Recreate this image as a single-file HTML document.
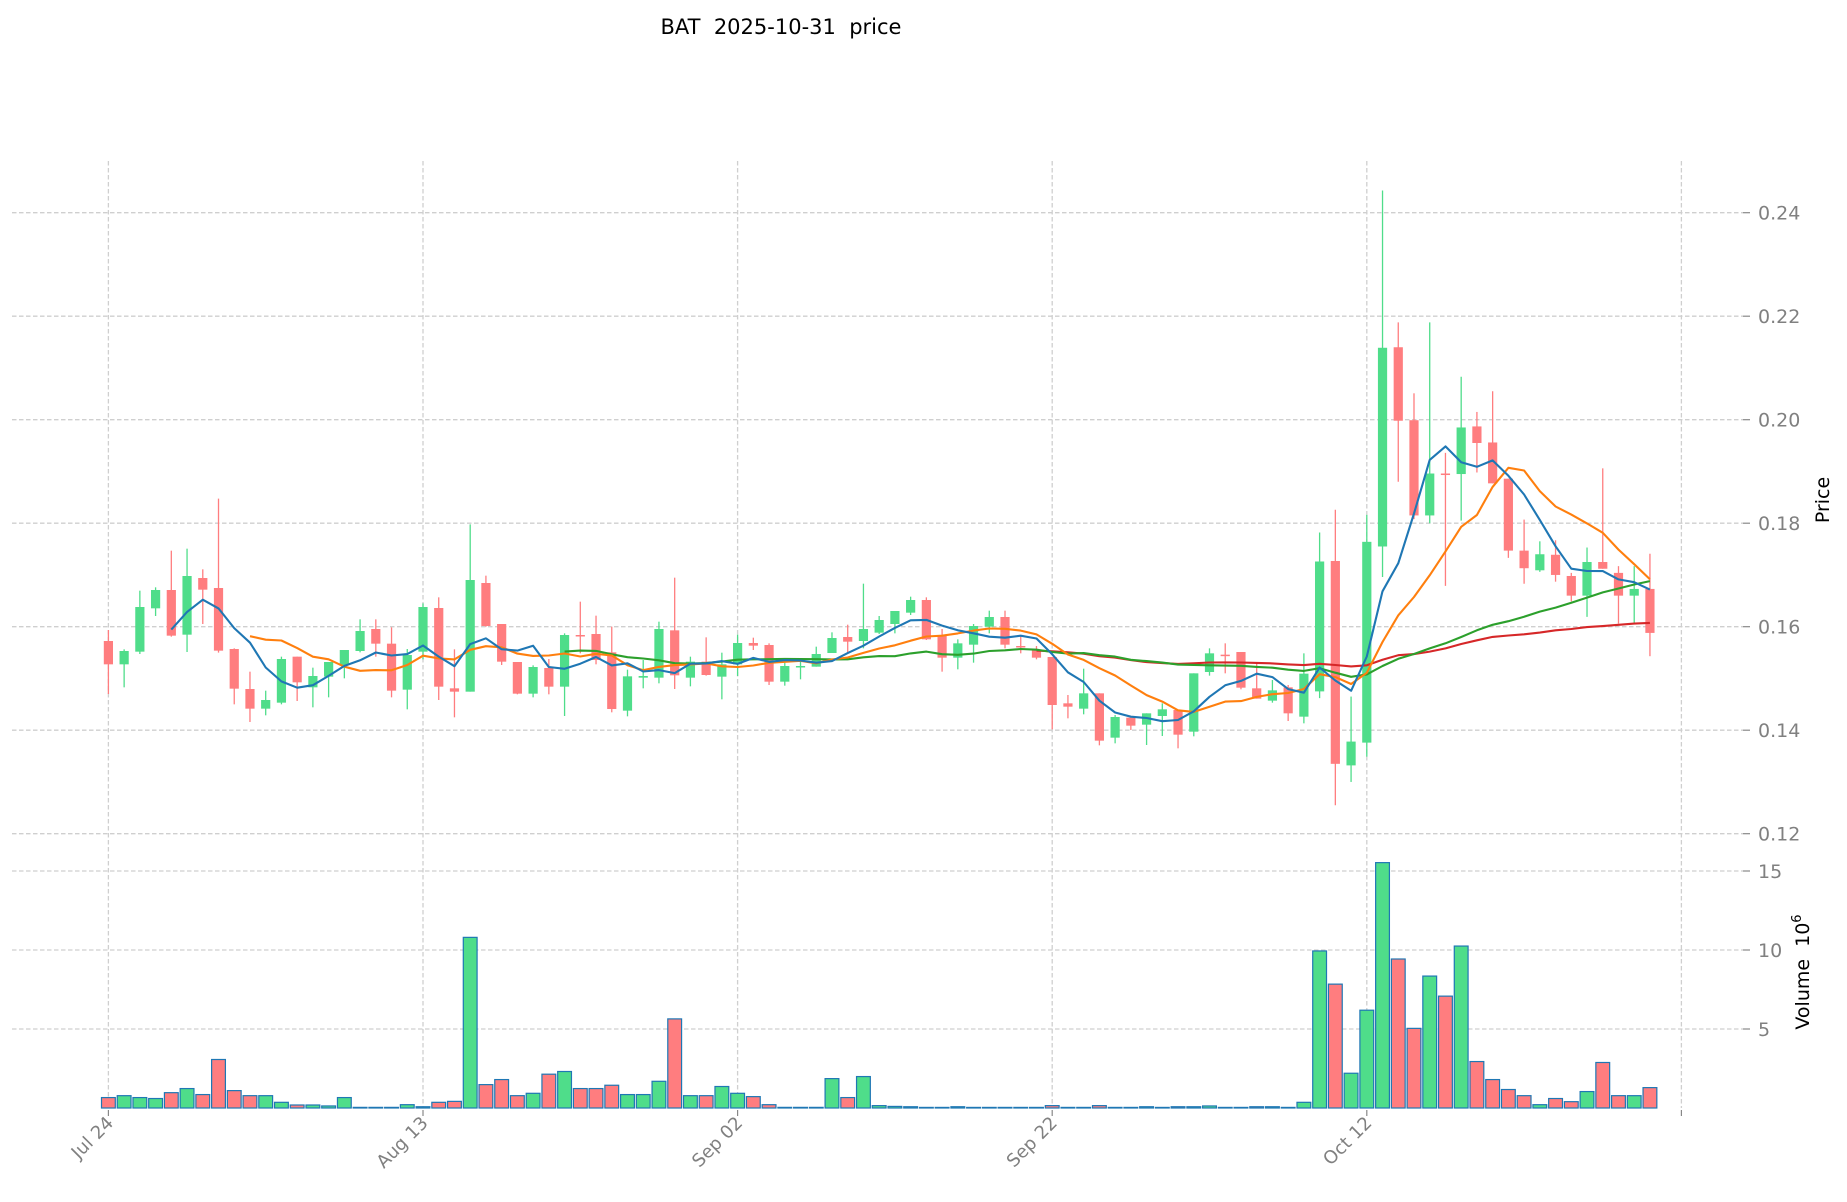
<!DOCTYPE html>
<html><head><meta charset="utf-8">
<style>
html,body{margin:0;padding:0;background:#fff;}
svg{display:block;}
text{font-family:"DejaVu Sans","Liberation Sans",sans-serif;}
</style></head>
<body>
<svg id="s" width="1847" height="1202" viewBox="0 0 1847 1202" xmlns="http://www.w3.org/2000/svg">
<text x="781" y="34" font-size="21" text-anchor="middle" fill="#000">BAT&#160;&#160;2025-10-31&#160;&#160;price</text>
<g id="grid"></g>
<g id="vol"></g>
<g id="cand"></g>
<g id="ma"></g>
<g id="axes"></g>
<text transform="translate(1829,500) rotate(-90)" font-size="19" text-anchor="middle" fill="#000">Price</text>
<text transform="translate(1809,972) rotate(-90)" font-size="19" text-anchor="middle" fill="#000">Volume&#160;&#160;10<tspan dy="-8" font-size="13">6</tspan></text>
</svg>
<script>
(function(){
var NS="http://www.w3.org/2000/svg";
function el(p,t,a,txt){var e=document.createElementNS(NS,t);for(var k in a)e.setAttribute(k,a[k]);if(txt!==undefined)e.textContent=txt;document.getElementById(p).appendChild(e);return e;}
function X(k){return 108.4+15.73*k;}
function Yp(p){return 626.7-(p-0.16)*5175;}
function Pz(v){var Y=480+v/3;return 0.16+(626.7-Y)/5175;}
var A=[[0,483,553,450,642],[1,513,553,508,622],[1,381,515,332,522],[1,330,385,322,408],[0,330,467,212,470],[1,288,464,206,516],[0,294,329,268,432],[0,324,512,56,518],[0,507,626,505,673],[0,627,686,575,726],[1,660,686,632,706],[1,537,668,530,673],[0,530,607,530,663],[1,588,622,563,682],[1,546,590,546,652],[1,510,555,510,595],[1,453,513,418,517],[0,447,491,418,530],[0,491,632,442,652],[1,525,629,507,688],[1,381,515,370,538],[0,384,620,352,660],[0,625,635,508,712],[1,300,635,133,635],[0,309,438,287,440],[0,432,545,432,555],[0,546,641,546,643],[1,561,641,556,652],[0,564,620,537,643],[1,465,620,460,708],[0,465,469,365,520],[0,462,540,407,553],[0,517,687,440,697],[1,589,692,569,709],[1,588,593,540,625],[1,447,593,425,610],[0,451,586,293,627],[1,545,593,530,619],[0,545,585,472,587],[1,553,590,518,658],[1,489,553,464,588],[0,489,497,473,510],[0,495,605,490,615],[1,558,605,548,617],[1,558,560,540,598],[1,522,560,500,560],[1,474,519,457,519],[0,471,485,434,517],[1,447,483,311,505],[1,420,458,408,462],[1,393,432,393,460],[1,360,398,350,405],[0,360,478,352,480],[0,465,533,447,575],[1,490,533,478,568],[1,438,494,432,548],[1,411,440,392,460],[0,411,494,392,505],[0,498,502,470,520],[0,510,533,498,538],[0,531,675,531,748],[0,670,680,645,715],[1,640,686,566,703],[0,640,782,640,796],[1,711,773,705,790],[0,713,737,713,750],[1,700,734,700,795],[1,688,708,670,768],[0,690,764,690,805],[1,580,755,580,769],[1,520,576,505,587],[0,524,527,490,580],[0,516,623,516,628],[0,625,656,550,656],[1,631,662,600,668],[0,622,700,615,723],[1,581,710,520,730]];
var B=[[.1475,.1782,.1462,.1726],[.1727,.1826,.1255,.1335],[.1332,.1465,.1300,.1378],[.1376,.1816,.1349,.1764],[.1755,.2443,.1696,.2139],[.2140,.2188,.1880,.1998],[.1999,.2051,.1808,.1815],[.1815,.2188,.1800,.1896],[.1896,.1936,.1679,.1894],[.1895,.2083,.1805,.1985],[.1987,.2015,.1898,.1955],[.1956,.2055,.1877,.1877],[.1886,.1886,.1733,.1747],[.1747,.1807,.1683,.1713],[.1709,.1765,.1706,.1740],[.1739,.1767,.1687,.1700],[.1698,.1704,.1649,.1660],[.1660,.1753,.1619,.1725],[.1725,.1906,.1712,.1712],[.1704,.1717,.1606,.1660],[.1660,.1717,.1608,.1673],[.1673,.1741,.1543,.1588]];
var C=[];
A.forEach(function(a){var t=Pz(a[1]),b=Pz(a[2]),h=Pz(a[3]),l=Pz(a[4]);
 if(a[0])C.push({o:b,c:t,h:h,l:l});else C.push({o:t,c:b,h:h,l:l});});
B.forEach(function(b){C.push({o:b[0],h:b[1],l:b[2],c:b[3]});});
var V=[0.66,0.78,0.66,0.6,0.97,1.23,0.85,3.07,1.1,0.78,0.78,0.36,0.19,0.19,0.13,0.66,0.04,0.04,0.04,0.21,0.08,0.36,0.42,10.8,1.48,1.8,0.78,0.93,2.14,2.31,1.23,1.23,1.44,0.85,0.85,1.69,5.64,0.78,0.78,1.36,0.93,0.72,0.21,0.04,0.04,0.04,1.86,0.66,1.99,0.15,0.1,
0.08,0.03,0.03,0.08,0.03,0.03,0.01,0.01,0.01,0.15,0.03,0.03,0.15,0.03,0.03,0.08,0.03,0.08,0.08,0.13,0.03,0.03,0.08,0.08,0.03,
0.36,9.94,7.84,2.2,6.19,15.53,9.43,5.04,8.35,7.08,10.25,2.94,1.8,1.17,0.78,0.21,0.6,0.4,1.04,2.88,0.78,0.78,1.29];
var G="#4fdd8a",R="#ff7d7f",GC="#cfcfcf";
var VB=1108,VU=15.8;
[0.12,0.14,0.16,0.18,0.20,0.22,0.24].forEach(function(p){var y=Yp(p);
 el("grid","line",{x1:12,x2:1743,y1:y,y2:y,stroke:GC,"stroke-width":1.3,"stroke-dasharray":"4.5,2.5"});
 el("axes","line",{x1:1743,x2:1750,y1:y,y2:y,stroke:"#888","stroke-width":1.2});
 el("axes","text",{x:1758,y:y+7,"font-size":19,fill:"#808080"},p.toFixed(2));});
[5,10,15].forEach(function(v){var y=VB-v*VU;
 el("grid","line",{x1:12,x2:1743,y1:y,y2:y,stroke:GC,"stroke-width":1.3,"stroke-dasharray":"4.5,2.5"});
 el("axes","line",{x1:1743,x2:1750,y1:y,y2:y,stroke:"#888","stroke-width":1.2});
 el("axes","text",{x:1758,y:y+7,"font-size":19,fill:"#808080"},String(v));});
var labs=["Jul 24","Aug 13","Sep 02","Sep 22","Oct 12"];
for(var j=0;j<=5;j++){var x=108.4+314.6*j;
 el("grid","line",{x1:x,x2:x,y1:161,y2:VB,stroke:GC,"stroke-width":1.3,"stroke-dasharray":"4.5,2.5"});
 el("axes","line",{x1:x,x2:x,y1:VB+2,y2:VB+8,stroke:"#888","stroke-width":1.2});
 if(j<5)el("axes","text",{transform:"translate("+(x+6)+","+(VB+16)+") rotate(-45)","font-size":18,fill:"#808080","text-anchor":"end"},labs[j]);}
V.forEach(function(v,k){var c=C[k];var col=c.c>=c.o?G:R;var h=Math.max(v*VU,0.6);
 el("vol","rect",{x:X(k)-6.9,y:VB-h,width:13.8,height:h,fill:col,stroke:"#1f77b4","stroke-width":1.2});});
C.forEach(function(c,k){var col=c.c>=c.o?G:R;var x=X(k);
 el("cand","line",{x1:x,x2:x,y1:Yp(c.h),y2:Yp(c.l),stroke:col,"stroke-width":1.3});
 var t=Yp(Math.max(c.o,c.c)),b=Yp(Math.min(c.o,c.c));
 el("cand","rect",{x:x-4.6,y:t,width:9.2,height:Math.max(b-t,1.5),fill:col});});
function ma(n,col){var pts=[];for(var k=n-1;k<C.length;k++){var s=0;for(var i=k-n+1;i<=k;i++)s+=C[i].c;pts.push(X(k).toFixed(1)+","+Yp(s/n).toFixed(1));}
 el("ma","polyline",{points:pts.join(" "),fill:"none",stroke:col,"stroke-width":2.1,"stroke-linejoin":"round"});}
ma(60,"#d62728");ma(30,"#2ca02c");ma(10,"#ff7f0e");ma(5,"#1f77b4");
})();
</script>
</body></html>
